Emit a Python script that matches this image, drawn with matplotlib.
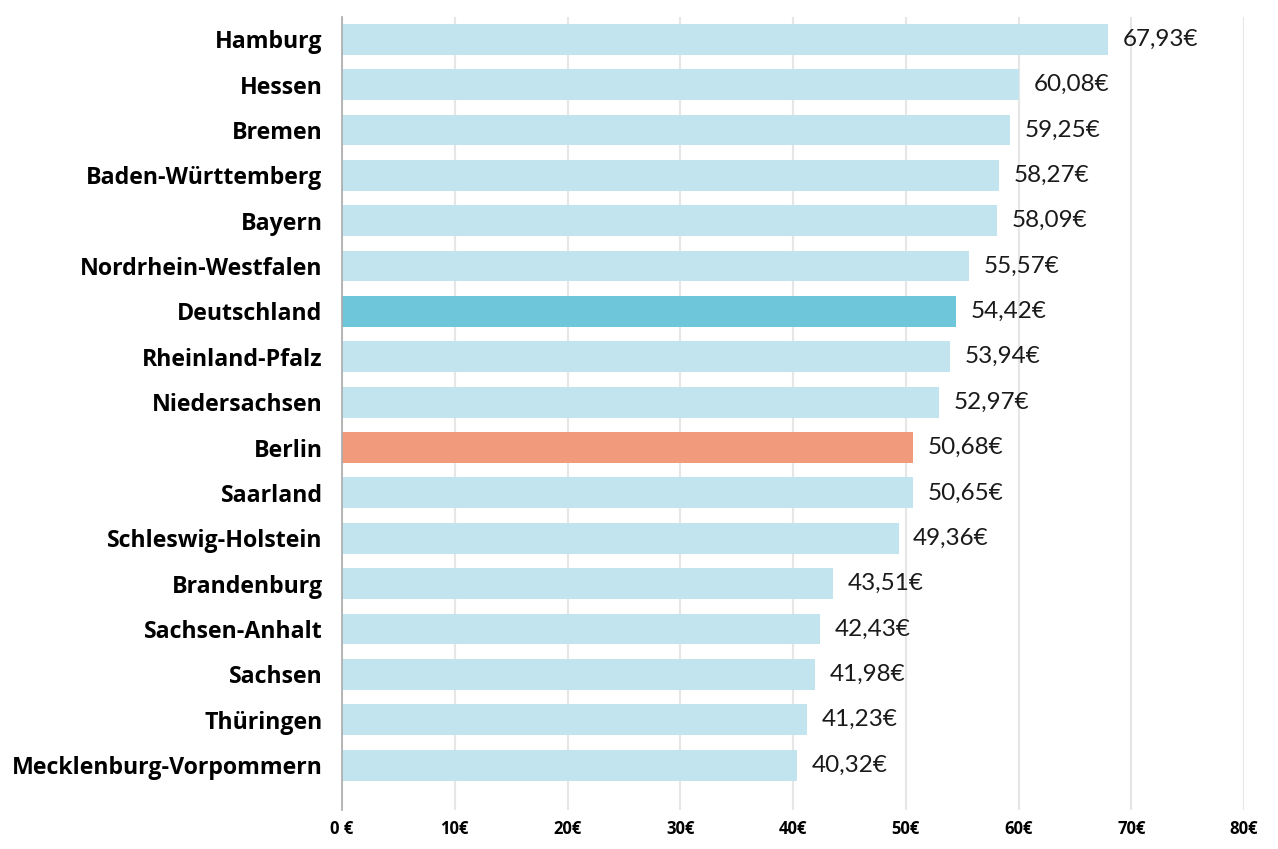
import matplotlib.pyplot as plt

laender = ["Hamburg", "Hessen", "Bremen", "Baden-Württemberg", "Bayern",
           "Nordrhein-Westfalen", "Deutschland", "Rheinland-Pfalz",
           "Niedersachsen", "Berlin", "Saarland", "Schleswig-Holstein",
           "Brandenburg", "Sachsen-Anhalt", "Sachsen", "Thüringen",
           "Mecklenburg-Vorpommern"]
werte = [67.93, 60.08, 59.25, 58.27, 58.09, 55.57, 54.42, 53.94, 52.97,
         50.68, 50.65, 49.36, 43.51, 42.43, 41.98, 41.23, 40.32]
xticks = [0, 10, 20, 30, 40, 50, 60, 70, 80]
xticklabels = ["0 €", "10€", "20€", "30€", "40€", "50€", "60€", "70€", "80€"]

farben = []
for land in laender:
    if land == "Deutschland":
        farben.append("#6ec6da")
    elif land == "Berlin":
        farben.append("#f29a7c")
    else:
        farben.append("#c2e4ee")

fig = plt.figure(figsize=(12.78, 8.49), dpi=100)
ax = fig.add_axes([342/1278, 39/849, (1244-342)/1278, (810-17)/849])

pos = list(range(len(laender)))
ax.barh(pos, werte, height=0.68, color=farben, zorder=2)
for y, v in zip(pos, werte):
    ax.text(v + 1.3, y, f"{v:.2f}".replace(".", ",") + "€", va="center",
            ha="left", fontsize=17.5, family="Lato", fontweight="normal",
            color="#1a1a1a", zorder=3)

ax.set_xlim(0, 80)
ax.set_ylim(len(laender) - 0.01, -0.49)
ax.set_yticks(pos)
ax.set_yticklabels(laender, fontsize=16.7, fontweight="bold", family="Open Sans")
ax.set_xticks(xticks)
ax.set_xticklabels(xticklabels, fontsize=12, fontweight="bold", family="Open Sans")
ax.tick_params(axis="y", length=0, pad=14)
ax.tick_params(axis="x", length=0, pad=7)
ax.grid(axis="x", color="#e6e6e6", linewidth=1.5, zorder=0)
for s in ["top", "right", "bottom"]:
    ax.spines[s].set_visible(False)
ax.spines["left"].set_color("#aaaaaa")
ax.spines["left"].set_linewidth(1.2)

plt.savefig("out.png", dpi=100)
